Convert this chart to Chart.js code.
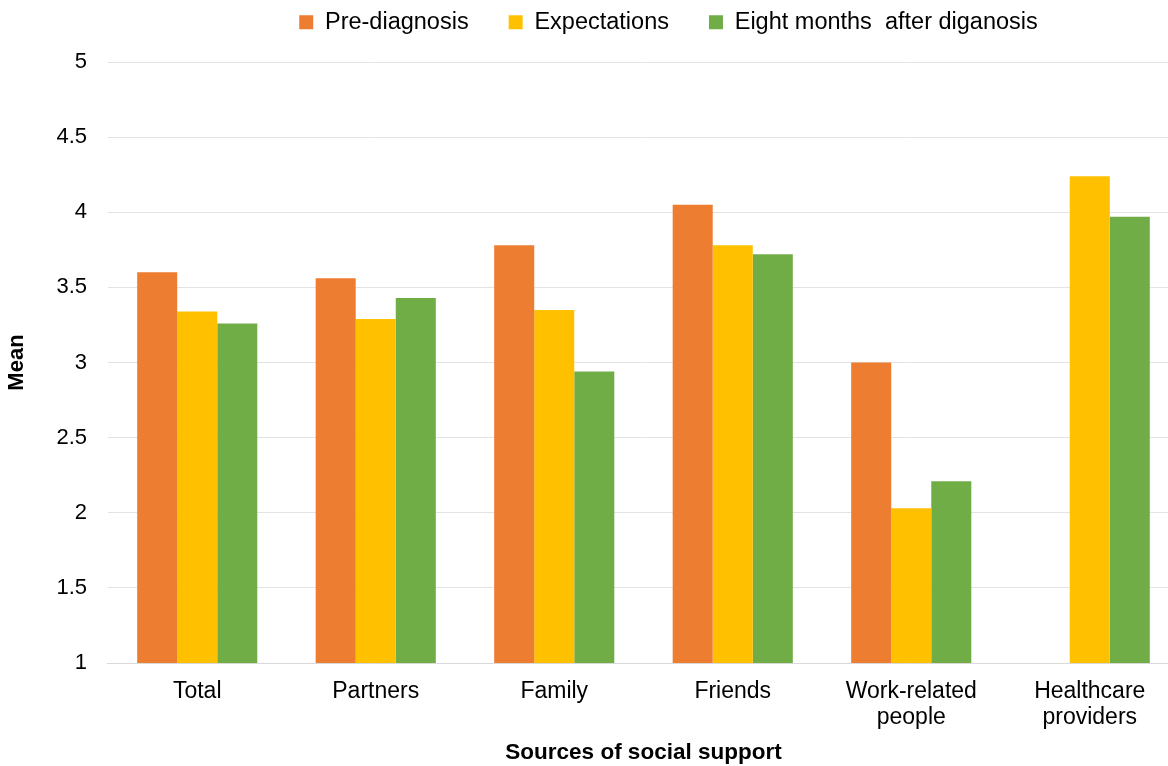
<!DOCTYPE html>
<html lang="en">
<head>
    <meta charset="UTF-8">
    <title>Sources of social support</title>
    <script src="https://cdn.jsdelivr.net/npm/chart.js"></script>
    <style>
        html, body { margin: 0; padding: 0; background: #fff; overflow: hidden; }
        /* plot runs a little past the right edge of the window */
        #wrap { width: 1179px; height: 766px; }
    </style>
</head>
<body>
<div id="wrap"><canvas id="graph_support"></canvas></div>
<script>
    const sources = ['Total', 'Partners', 'Family', 'Friends', ['Work-related', 'people'], ['Healthcare', 'providers']];
    const pre_diagnosis = [3.60, 3.56, 3.78, 4.05, 3.00, null];
    const expectations = [3.34, 3.29, 3.35, 3.78, 2.03, 4.24];
    const eight_months = [3.26, 3.43, 2.94, 3.72, 2.21, 3.97];

    Chart.defaults.font.family = '"Liberation Sans", Arial, sans-serif';
    Chart.defaults.font.size = 22;
    Chart.defaults.color = '#000';

    // move the legend row right and up a little, away from the plot top
    const legendShift = {
        id: 'legendShift',
        afterLayout(chart) {
            const dx = 77, dy = -18;
            chart.legend.left += dx;
            chart.legend.right += dx;
            chart.legend.top += dy;
            chart.legend.bottom += dy;
        },
    };

    new Chart(document.getElementById('graph_support'), {
        type: 'bar',
        data: {
            labels: sources,
            datasets: [
                { label: 'Pre-diagnosis', data: pre_diagnosis, backgroundColor: '#ED7D31' },
                { label: 'Expectations', data: expectations, backgroundColor: '#FFC000' },
                { label: 'Eight months  after diganosis', data: eight_months, backgroundColor: '#70AD47' },
            ],
        },
        plugins: [legendShift],
        options: {
            responsive: true,
            maintainAspectRatio: false,
            animation: false,
            layout: { padding: { left: 4, right: 0, top: -11.5, bottom: 0 } },
            datasets: {
                bar: { categoryPercentage: 0.673, barPercentage: 1.0 },
            },
            plugins: {
                legend: {
                    position: 'top',
                    labels: {
                        boxWidth: 14,
                        boxHeight: 14,
                        padding: 40,
                        font: { size: 23.5 },
                    },
                },
                tooltip: { enabled: false },
            },
            scales: {
                x: {
                    grid: { display: false },
                    border: { color: '#D9D9D9', width: 1 },
                    ticks: { padding: 8, maxRotation: 0, font: { size: 23, lineHeight: 1.13 } },
                    title: {
                        display: true,
                        text: 'Sources of social support',
                        font: { size: 22.5, weight: 'bold' },
                        padding: { top: 0, bottom: 0 },
                    },
                },
                y: {
                    min: 1,
                    max: 5,
                    ticks: {
                        stepSize: 0.5,
                        padding: 21,
                        callback: v => String(Math.round(v * 10) / 10),
                    },
                    grid: { color: '#E3E3E3', drawTicks: false },
                    border: { display: false },
                    title: {
                        display: true,
                        text: 'Mean',
                        font: { weight: 'bold' },
                        padding: { top: 0, bottom: 5 },
                    },
                },
            },
        },
    });
</script>
</body>
</html>
